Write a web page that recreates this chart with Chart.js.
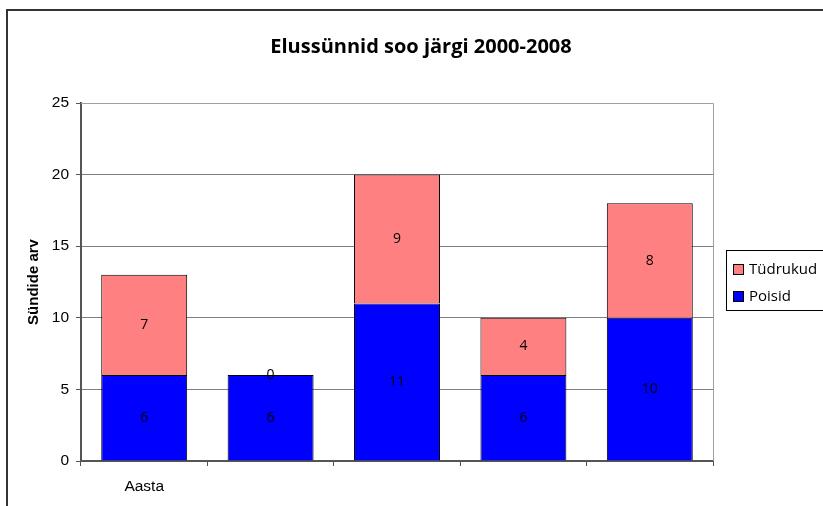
<!DOCTYPE html>
<html>
<head>
<meta charset="utf-8">
<script src="https://cdn.jsdelivr.net/npm/chart.js@4.4.1/dist/chart.umd.min.js"></script>
<style>
html,body{margin:0;padding:0;background:#fff;}
#wrap{width:823px;height:506px;position:relative;}
</style>
</head>
<body>
<div id="wrap"><canvas id="c" width="823" height="506"></canvas></div>
<script>
const categories = ["Aasta", "", "", "", ""];
const poisid = [6, 6, 11, 6, 10];
const tydrukud = [7, 0, 9, 4, 8];
const yTicks = [0, 5, 10, 15, 20, 25];
const titleText = "Elussünnid soo järgi 2000-2008";
const yTitle = "Sündide arv";
const seriesNames = ["Poisid", "Tüdrukud"];

const LABEL_FONT = '14px "Open Sans", "Liberation Sans", sans-serif';

const decor = {
  id: 'decor',
  beforeDraw(chart) {
    const ctx = chart.ctx;
    ctx.save();
    ctx.fillStyle = '#fff';
    ctx.fillRect(0, 0, chart.width, chart.height);
    ctx.strokeStyle = '#333';
    ctx.lineWidth = 2;
    ctx.beginPath();
    ctx.moveTo(7, 506);
    ctx.lineTo(7, 10);
    ctx.lineTo(823, 10);
    ctx.stroke();
    ctx.restore();
  },
  afterDatasetsDraw(chart) {
    const ctx = chart.ctx;
    ctx.save();
    ctx.fillStyle = '#000';
    ctx.font = LABEL_FONT;
    ctx.textAlign = 'center';
    ctx.textBaseline = 'middle';
    chart.data.datasets.forEach((ds, di) => {
      const meta = chart.getDatasetMeta(di);
      meta.data.forEach((el, i) => {
        const v = ds.data[i];
        const cy = (el.y + el.base) / 2;
        ctx.fillText(String(v), el.x, cy);
      });
    });
    ctx.font = 'bold 20px "Open Sans", "Liberation Sans", sans-serif';
    ctx.fillText(titleText, 421, 47);
    ctx.save();
    ctx.translate(34, 282);
    ctx.rotate(-Math.PI / 2);
    ctx.font = 'bold 15px "Liberation Sans", Arial, sans-serif';
    ctx.fillText(yTitle, 0, 0);
    ctx.restore();
    const a = chart.chartArea;
    ctx.strokeStyle = '#a0a0a0';
    ctx.lineWidth = 1;
    ctx.beginPath();
    ctx.moveTo(a.left, a.top + 0.5);
    ctx.lineTo(a.right + 0.5, a.top + 0.5);
    ctx.lineTo(a.right + 0.5, a.bottom);
    ctx.stroke();
    ctx.strokeStyle = '#000';
    ctx.strokeRect(726.5, 250.5, 110, 60);
    const items = [
      {name: seriesNames[1], color: '#FF8080', y: 270},
      {name: seriesNames[0], color: '#0000FF', y: 297}
    ];
    ctx.font = '15px "Open Sans", "Liberation Sans", sans-serif';
    ctx.textAlign = 'left';
    items.forEach(it => {
      ctx.fillStyle = it.color;
      ctx.fillRect(733, it.y - 6, 11, 11);
      ctx.strokeStyle = '#000';
      ctx.strokeRect(733.5, it.y - 5.5, 10, 10);
      ctx.fillStyle = '#000';
      ctx.fillText(it.name, 749, it.y);
    });
    ctx.restore();
  }
};

new Chart(document.getElementById('c'), {
  type: 'bar',
  data: {
    labels: categories,
    datasets: [
      {label: seriesNames[0], data: poisid, backgroundColor: '#0000FF', borderColor: '#000', borderWidth: 1, categoryPercentage: 1, barPercentage: 0.68},
      {label: seriesNames[1], data: tydrukud, backgroundColor: '#FF8080', borderColor: '#000', borderWidth: 1, categoryPercentage: 1, barPercentage: 0.68}
    ]
  },
  options: {
    responsive: false,
    animation: false,
    events: [],
    layout: {padding: {left: 0, right: 110, top: 103, bottom: 0}},
    plugins: {legend: {display: false}, title: {display: false}, tooltip: {enabled: false}},
    scales: {
      x: {
        stacked: true,
        offset: true,
        grid: {offset: true, drawOnChartArea: false, drawTicks: true, tickLength: 5, color: '#555', tickColor: '#555'},
        border: {color: '#555', width: 2},
        ticks: {color: '#000', font: {family: '"Liberation Sans", Arial, sans-serif', size: 15.5}, padding: 11, maxRotation: 0},
        afterFit(s) { s.height = 45; }
      },
      y: {
        stacked: true,
        min: 0, max: 25,
        afterBuildTicks(s) { s.ticks = yTicks.map(v => ({value: v})); },
        grid: {color: '#808080', tickLength: 5, tickColor: '#555'},
        border: {color: '#555', width: 2},
        ticks: {color: '#000', font: {family: '"Liberation Sans", Arial, sans-serif', size: 15.5}, padding: 7},
        afterFit(s) { s.width = 81; }
      }
    }
  },
  plugins: [decor]
});
</script>
</body>
</html>
